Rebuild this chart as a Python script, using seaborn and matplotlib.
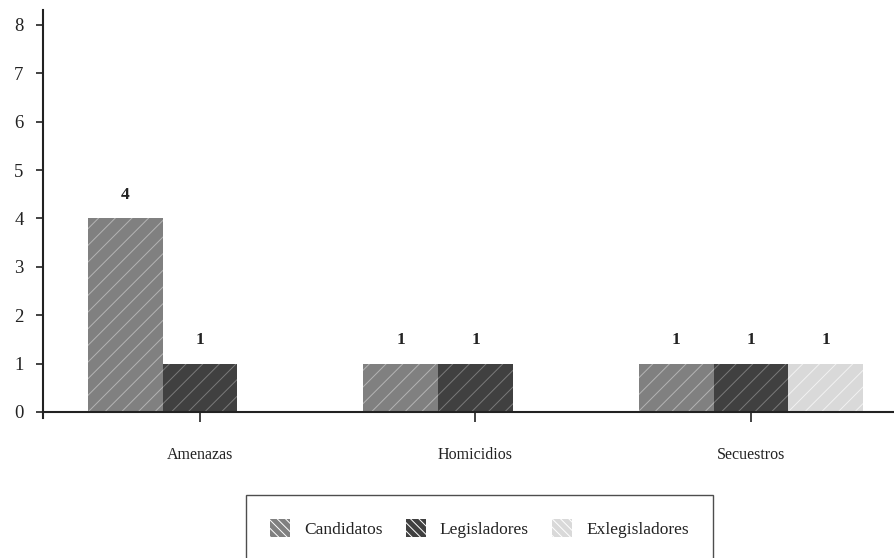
import matplotlib
matplotlib.use("Agg")
import matplotlib.pyplot as plt
from matplotlib.patches import Patch
import seaborn as sns
import pandas as pd

# Data
tipos = ["Amenazas", "Homicidios", "Secuestros"]
grupos = ["Candidatos", "Legisladores", "Exlegisladores"]
candidatos = [4, 1, 1]
legisladores = [1, 1, 1]
exlegisladores = [0, 0, 1]

colores = ["#808080", "#404040", "#d9d9d9"]
colores_trama = ["#b4b4b4", "#7a7a7a", "#f2f2f2"]

df = pd.DataFrame({
    "tipo": tipos * 3,
    "grupo": [g for g in grupos for _ in tipos],
    "casos": candidatos + legisladores + exlegisladores,
})

sns.set_theme(style="white")
plt.rcParams["font.family"] = ["Liberation Serif", "DejaVu Serif"]
plt.rcParams["hatch.linewidth"] = 0.7

fig = plt.figure(figsize=(8.95, 5.58), dpi=100)
ax = fig.add_axes([43 / 895, 1 - 412 / 558, 1 - 43 / 895, (412 - 10) / 558])

sns.barplot(data=df, x="tipo", y="casos", hue="grupo", hue_order=grupos,
            order=tipos, palette=colores, saturation=1, width=0.815,
            legend=False, ax=ax)

for cont, trama in zip(ax.containers, colores_trama):
    for bar in cont:
        bar.set_hatch("//")
        bar.set_edgecolor(trama)
        bar.set_linewidth(0)
    vals = [b.get_height() for b in cont]
    etiquetas = [f"{v:.0f}" if v > 0 else "" for v in vals]
    ax.bar_label(cont, labels=etiquetas, padding=11, fontsize=12.5,
                 fontweight="bold", color="#222222")

ax.set_ylim(0, 8.31)
ax.set_xlim(-0.57, 2.523)
ax.set_yticks(range(0, 9))
ax.set_xlabel("")
ax.set_ylabel("")

for side in ["top", "right"]:
    ax.spines[side].set_visible(False)
for side in ["left", "bottom"]:
    ax.spines[side].set_color("#222222")
    ax.spines[side].set_linewidth(1.5)
ax.spines["left"].set_bounds(-0.13, 8.31)

ax.tick_params(axis="y", which="both", direction="out", length=5, width=1.2,
               color="#222222", labelsize=13.5, pad=9, left=True)
ax.tick_params(axis="x", which="both", direction="out", length=7, width=1.2,
               color="#222222", labelsize=11.5, pad=18, bottom=True)
for lab in ax.get_xticklabels() + ax.get_yticklabels():
    lab.set_color("#222222")

handles = [Patch(facecolor=c, edgecolor="white", hatch="\\\\\\\\", linewidth=0,
                 label=g) for c, g in zip(colores, grupos)]
leg = fig.legend(handles=handles, loc="upper center", ncol=3,
                 bbox_to_anchor=(479.5 / 895, 1 - 495 / 558),
                 frameon=True, fancybox=False, edgecolor="#222222",
                 fontsize=12.5, handlelength=1.15, handleheight=1.2,
                 handletextpad=0.8, columnspacing=1.35, borderpad=1.4,
                 borderaxespad=0)
leg.get_frame().set_linewidth(1.0)
for t in leg.get_texts():
    t.set_color("#222222")

fig.savefig("out.png", dpi=100)
